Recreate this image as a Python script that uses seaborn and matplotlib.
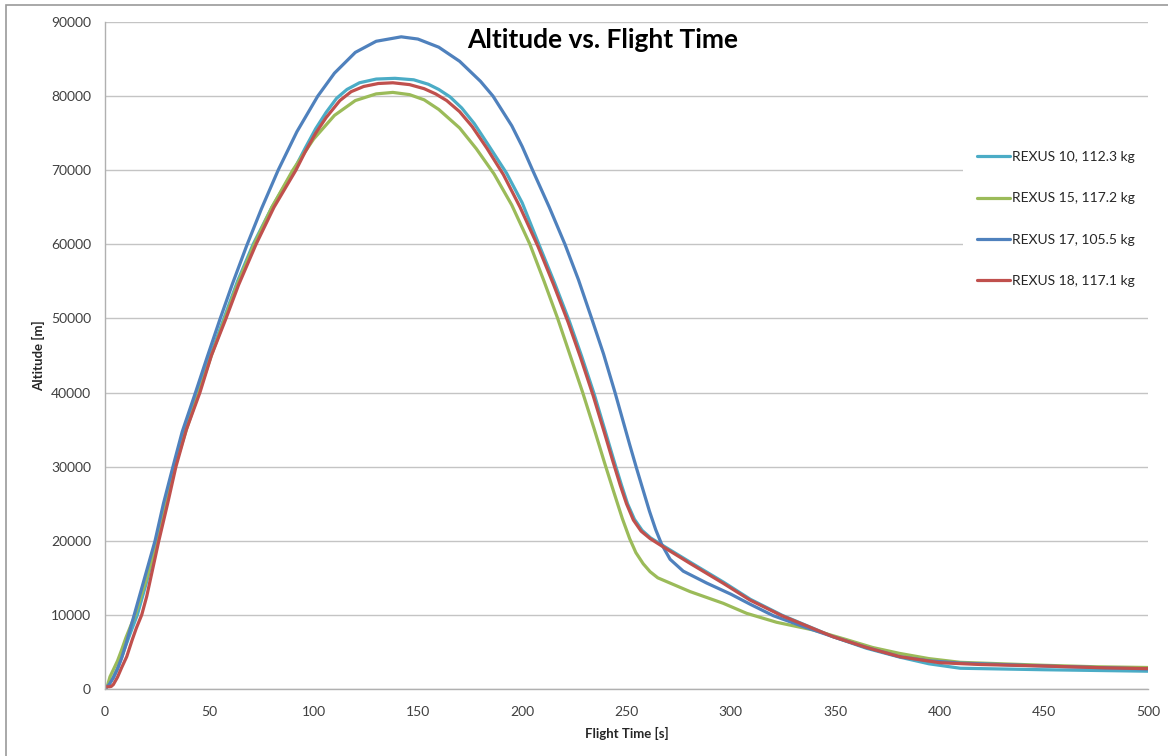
"""Altitude vs. flight time for four REXUS sounding rockets."""
import pandas as pd
import seaborn as sns
import matplotlib.pyplot as plt
from matplotlib.patches import Rectangle

# Values (time in s, altitude in m)
series_names = ["REXUS 10, 112.3 kg", "REXUS 15, 117.2 kg",
                "REXUS 17, 105.5 kg", "REXUS 18, 117.1 kg"]
series_colors = ["#4BACC6", "#9BBB59", "#4F81BD", "#C0504D"]

rexus10_t = [0, 2, 4, 6, 8, 10, 12.5, 15.5, 20, 25, 29, 33, 38.5, 44.5, 50.5, 57,
             63.5, 71, 80, 90.5, 96, 101, 106, 111, 116, 122, 130, 139, 148, 155,
             160, 165.4, 171, 177, 184, 192.5, 200, 208, 215.5, 222.5, 228.5,
             234.5, 240, 244, 247.5, 250.5, 253.8, 257.5, 261.5, 267.2, 280.6,
             296.6, 309.4, 324.6, 349, 365, 381, 395, 410, 430, 450, 475, 500]
rexus10_alt = [0, 700, 1600, 2800, 4300, 5900, 7800, 10000, 14500, 20000, 24800,
               30000, 35000, 40000, 45000, 50000, 55000, 60000, 65000, 70000,
               73000, 75600, 77800, 79700, 80900, 81800, 82300, 82400, 82200,
               81600, 80900, 79900, 78400, 76300, 73300, 69600, 65600, 60000,
               54800, 49700, 44900, 39800, 34600, 30800, 27600, 25000, 22900,
               21400, 20400, 19400, 17100, 14400, 12100, 9950, 7060, 5500, 4300,
               3400, 2800, 2700, 2600, 2500, 2400]

rexus15_t = [0, 1, 2.4, 4, 6, 8, 10, 12, 14.5, 20, 25, 29, 33.5, 39, 45, 51, 57.5,
             64, 71.5, 80, 90, 100, 110, 120, 130, 138, 146, 153, 160, 170, 178,
             186.5, 195, 203.7, 210.5, 217, 223, 229, 234.5, 239.5, 244, 248,
             251.5, 254.5, 258, 261.3, 265, 270, 280.4, 296.4, 307.6, 322, 339.6,
             355, 368, 381, 395, 410, 430, 450, 475, 500]
rexus15_alt = [0, 300, 1660, 2600, 3800, 5300, 6900, 8300, 10000, 15000, 20000,
               24800, 30000, 35000, 40000, 45000, 50000, 55000, 60000, 65000,
               70000, 74200, 77400, 79400, 80300, 80500, 80200, 79500, 78200,
               75700, 72900, 69500, 65300, 60000, 55000, 50000, 45000, 40000,
               35100, 30500, 26500, 23000, 20300, 18400, 16900, 15830, 15000,
               14400, 13150, 11560, 10210, 9000, 7960, 6700, 5600, 4800, 4100,
               3600, 3400, 3200, 3000, 2900]

rexus17_t = [0, 2, 4, 6, 8, 10, 12, 14, 17, 20, 24, 28, 32.4, 37, 43.5, 49, 55,
             61, 67.9, 75, 83, 92, 102, 110, 120, 130, 142, 150, 160, 170, 180,
             186, 195, 200, 205, 213, 220.5, 227, 233.3, 239, 244.5, 248, 251.5,
             254.9, 258, 261, 264, 266.9, 270.9, 277.2, 288.4, 300, 309.2, 320.4,
             335, 349, 365, 381, 395, 410, 430, 450, 475, 500]
rexus17_alt = [0, 600, 1500, 2700, 4200, 6000, 8000, 10000, 13000, 16000, 20000,
               25000, 29800, 34700, 40100, 44800, 49800, 54600, 59800, 64800,
               70000, 75200, 80000, 83100, 85900, 87400, 88000, 87700, 86600,
               84700, 82000, 80000, 76000, 73200, 70000, 65000, 60000, 55200,
               50000, 45200, 40000, 36500, 33000, 29700, 26800, 24000, 21500,
               19500, 17500, 15900, 14300, 12800, 11450, 9890, 8400, 7060, 5600,
               4360, 3800, 3500, 3300, 3100, 2900, 2700]

rexus18_t = [0, 2, 3, 4, 6, 8, 10.4, 13, 15, 17.6, 20, 25.8, 30, 34, 39, 45.5, 51,
             58, 64, 72.4, 81, 91.5, 96, 101, 106, 112.6, 118, 124, 131, 138, 146,
             153, 158.5, 163.8, 170, 176, 183, 191, 199, 207.6, 215, 222, 228,
             234, 239.5, 243.5, 247, 250, 253.3, 257, 261.3, 266.9, 280.4, 296.4,
             309.2, 324.4, 349, 365, 381, 400, 420, 450, 480, 500]
rexus18_alt = [300, 300, 350, 600, 1600, 2900, 4360, 6600, 8200, 10000, 12500,
               20000, 25000, 30000, 35000, 40000, 45000, 50000, 54500, 60000,
               65000, 70000, 72500, 75000, 77100, 79400, 80600, 81300, 81700,
               81800, 81550, 81000, 80300, 79400, 77900, 75900, 73000, 69400,
               65000, 59700, 54600, 49500, 44700, 39600, 34500, 30700, 27500,
               25000, 22800, 21300, 20300, 19300, 16960, 14260, 12000, 9900, 7060,
               5600, 4360, 3550, 3300, 3100, 2850, 2750]

x_ticks = [0, 50, 100, 150, 200, 250, 300, 350, 400, 450, 500]
y_ticks = [0, 10000, 20000, 30000, 40000, 50000, 60000, 70000, 80000, 90000]

# Long-form table for seaborn
frames = []
for name, t, alt in zip(series_names,
                        [rexus10_t, rexus15_t, rexus17_t, rexus18_t],
                        [rexus10_alt, rexus15_alt, rexus17_alt, rexus18_alt]):
    frames.append(pd.DataFrame({"Flight Time": t, "Altitude": alt, "Flight": name}))
flights = pd.concat(frames, ignore_index=True)

sns.set_style("white")
plt.rcParams["font.family"] = ["Lato", "DejaVu Sans"]

fig = plt.figure(figsize=(11.68, 7.56), dpi=100)
ax = fig.add_axes([105 / 1168, 1 - 689 / 756, (1148 - 105) / 1168, (689 - 22) / 756])

sns.lineplot(data=flights, x="Flight Time", y="Altitude", hue="Flight",
             hue_order=series_names, palette=dict(zip(series_names, series_colors)),
             sort=False, estimator=None, linewidth=2.3, ax=ax)

# Excel-like axes
ax.set_xlim(0, 500)
ax.set_ylim(0, 90000)
ax.set_xticks(x_ticks)
ax.set_yticks(y_ticks)
ax.yaxis.grid(True, color="#c4c4c4", linewidth=1)
ax.xaxis.grid(False)
ax.set_axisbelow(True)
for side in ["top", "right"]:
    ax.spines[side].set_visible(False)
for side in ["left", "bottom"]:
    ax.spines[side].set_color("#b0b0b0")
    ax.spines[side].set_linewidth(1)
ax.tick_params(axis="both", direction="out", length=4, width=1, color="#b0b0b0",
               labelsize=10, labelcolor="#404040", pad=6)
ax.tick_params(axis="x", pad=8)
ax.set_xlabel("Flight Time [s]", fontsize=9.5, fontweight="bold", labelpad=7)
ax.set_ylabel("Altitude [m]", fontsize=9.5, fontweight="bold", labelpad=4)

fig.text(603 / 1168, 1 - 40 / 756, "Altitude vs. Flight Time", ha="center",
         va="center", fontsize=19, fontweight="bold", color="black")

handles, labels = ax.get_legend_handles_labels()
ax.legend(handles, labels, loc="center left", bbox_to_anchor=(963 / 1168, 1 - 219 / 756),
          bbox_transform=fig.transFigure, frameon=True, facecolor="white",
          edgecolor="none", framealpha=1, fancybox=False, fontsize=10,
          handlelength=2.4, handletextpad=0.15, labelspacing=2.1, borderpad=1.0,
          borderaxespad=0)

# Outer chart border
fig.patches.append(Rectangle((6 / 1168, -0.02), 1.02, 1 - 5 / 756 + 0.02,
                             transform=fig.transFigure, fill=False,
                             edgecolor="#9a9a9a", linewidth=1.2))

plt.savefig("out.png", dpi=100)
plt.close()
